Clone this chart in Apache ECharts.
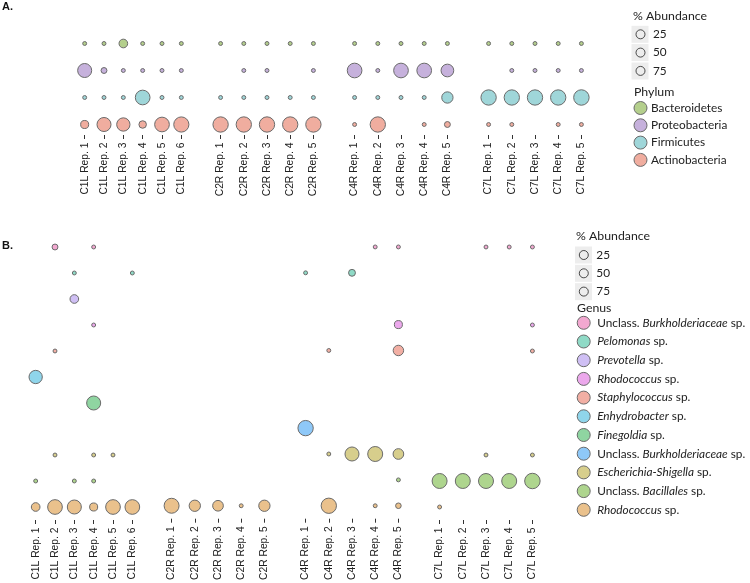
<!DOCTYPE html>
<html>
<head>
<meta charset="utf-8">
<script src="https://cdn.jsdelivr.net/npm/echarts@6/dist/echarts.min.js"></script>
<style>
  html, body { margin: 0; background: #fff; }
  #chart { width: 750px; height: 583px; }
</style>
</head>
<body>
<div id="chart"></div>
<script>
const _ = null; // not detected

const sites = ['C1L', 'C2R', 'C4R', 'C7L'];
const repCounts = [6, 5, 5, 5];
const sizeKeys = ['25', '50', '75'];

// panel A, % abundance per sample: C1L 1-6 | C2R 1-5 | C4R 1-5 | C7L 1-5
const phyla = ['Bacteroidetes', 'Proteobacteria', 'Firmicutes', 'Actinobacteria'];
const phylumColors = ['#b4cf8c', '#c6b1dc', '#9fd6d9', '#f0ad9f'];
const bacteroidetes  = [0.5, 0.5, 19, 0.5, 0.5, 0.5,  0.5, 0.5, 0.5, 0.5, 0.5,  0.5, 0.5, 0.5, 0.5, 0.5,  0.5, 0.5, 0.5, 0.5, 0.5];
const proteobacteria = [72, 5, 0.5, 0.5, 0.5, 0.5,    _, 0.5, 0.5, _, 0.5,        81, 0.5, 81, 81, 56,       _, 0.5, 0.5, 0.5, 0.5];
const firmicutes     = [0.5, 0.5, 0.5, 81, 0.5, 0.5,  0.5, 0.5, 0.5, 0.5, 0.5,  0.5, 0.5, 0.5, 0.5, 41,   90, 90, 90, 90, 92];
const actinobacteria = [15, 72, 63, 12, 81, 88,       90, 90, 90, 90, 90,       0.5, 90, _, 0.5, 5,        0.5, 0.5, _, 0.5, 0.5];

// panel B
const genera = ['Unclass. Burkholderiaceae', 'Pelomonas', 'Prevotella', 'Rhodococcus', 'Staphylococcus',
  'Enhydrobacter', 'Finegoldia', 'Unclass. Burkholderiaceae', 'Escherichia-Shigella', 'Unclass. Bacillales', 'Rhodococcus'];
const genusColors = ['#f2a8d0', '#8fdac6', '#cfbff4', '#eca8ec', '#f2afa4', '#8fd5eb',
  '#8fd5a1', '#8ec8f8', '#d7ce8c', '#aed58e', '#eac18c'];
const burkholderiaceaeA = [_, 5, _, 0.5, _, _,      _, _, _, _, _,        _, _, _, 0.5, 0.5,      _, _, 0.5, 0.5, 0.5];
const pelomonas         = [_, _, 0.5, _, _, 0.5,    _, _, _, _, _,        0.5, _, 9, _, _,        _, _, _, _, _];
const prevotella        = [_, _, 19, _, _, _,       _, _, _, _, _,        _, _, _, _, _,          _, _, _, _, _];
const rhodococcusA      = [_, _, _, 0.5, _, _,      _, _, _, _, _,        _, _, _, _, 15,         _, _, _, _, 0.5];
const staphylococcus    = [_, 0.5, _, _, _, _,      _, _, _, _, _,        _, 0.5, _, _, 33,       _, _, _, _, 0.5];
const enhydrobacter     = [63, _, _, _, _, _,       _, _, _, _, _,        _, _, _, _, _,          _, _, _, _, _];
const finegoldia        = [_, _, _, 72, _, _,       _, _, _, _, _,        _, _, _, _, _,          _, _, _, _, _];
const burkholderiaceaeB = [_, _, _, _, _, _,        _, _, _, _, _,        90, _, _, _, _,         _, _, _, _, _];
const escherichia       = [_, 0.5, _, 0.5, 0.5, _,  _, _, _, _, _,        _, 0.5, 72, 85, 35,     _, _, 0.5, _, 0.5];
const bacillales        = [0.5, _, 0.5, 0.5, _, _,  _, _, _, _, _,        _, _, _, _, 0.5,        85, 85, 85, 85, 92];
const rhodococcusB      = [19, 81, 72, 15, 81, 81,  85, 41, 35, 0.5, 41,  _, 90, _, 0.5, 4,       0.5, _, _, _, _];

const phylumValues = [bacteroidetes, proteobacteria, firmicutes, actinobacteria];
const genusValues = [burkholderiaceaeA, pelomonas, prevotella, rhodococcusA, staphylococcus,
  enhydrobacter, finegoldia, burkholderiaceaeB, escherichia, bacillales, rhodococcusB];

const FONT = '"Liberation Sans", Arial, sans-serif';
const LEG_FONT = 'Lato, "Noto Sans", sans-serif';

const samples = sites.map((s, i) => Array.from({ length: repCounts[i] }, (x, r) => `${s} Rep. ${r + 1}`));
const offsets = repCounts.map((c, i) => repCounts.slice(0, i).reduce((a, b) => a + b, 0));

const bubbleSize = d => 3 + 13 * Math.sqrt(d[2] / 100);

const grid = [], xAxis = [], yAxis = [], series = [];

const buildPanel = (rowKeys, values, colors, left0, top, height, axisOffset) => {
  sites.forEach((site, f) => {
    const gi = grid.length;
    grid.push({ left: left0 + f * 134, top, width: 116, height });
    xAxis.push({
      type: 'category', gridIndex: gi, data: samples[f], offset: axisOffset,
      axisLine: { show: false },
      axisTick: { show: true, alignWithLabel: true, length: 4, lineStyle: { color: '#333', width: 1 } },
      axisLabel: { rotate: 90, margin: 7.5, fontSize: 10.3, color: '#222', fontFamily: FONT },
      splitLine: { show: false },
    });
    yAxis.push({ type: 'category', gridIndex: gi, data: rowKeys, inverse: true, show: false });
    rowKeys.forEach((key, r) => {
      const data = samples[f]
        .map((lab, k) => [lab, key, values[r][offsets[f] + k]])
        .filter(d => d[2] !== null);
      series.push({
        type: 'scatter', name: key, xAxisIndex: gi, yAxisIndex: gi, data,
        symbolSize: bubbleSize,
        itemStyle: { color: colors[r], borderColor: '#6a6a6a', borderWidth: 1, opacity: 1 },
        emphasis: { disabled: true },
      });
    });
  });
};

const genusKeys = genera.map((g, i) => 'g' + i);
buildPanel(phyla, phylumValues, phylumColors, 75, 30, 108, -3);
buildPanel(genusKeys, genusValues, genusColors, 26, 234, 286, 0);

// empty series that only feed the size legend
sizeKeys.forEach(k => series.push({ type: 'scatter', name: k, xAxisIndex: 0, yAxisIndex: 0, data: [] }));

const genusLabel = name => {
  const g = genera[Number(name.slice(1))];
  if (g.startsWith('Unclass. ')) return 'Unclass. {i|' + g.slice(9) + '} sp.';
  return '{i|' + g + '} sp.';
};

const legText = { fontFamily: LEG_FONT, fontSize: 11.8, color: '#222', lineHeight: 13 };
const sizeLegend = (left, top) => ({
  data: sizeKeys, orient: 'vertical', left, top, icon: 'circle',
  itemWidth: 9, itemHeight: 9, itemGap: 5.3, selectedMode: false, padding: 0,
  itemStyle: { color: 'rgba(0,0,0,0)', borderColor: '#222', borderWidth: 1 },
  textStyle: { ...legText, padding: [0, 0, 0, 3] },
});

const keyBoxes = (x, centers) => centers.map(c => ({
  type: 'rect', z: -1, shape: { x, y: c - 8.5, width: 17, height: 17 }, style: { fill: '#ededed' },
}));

const chart = echarts.init(document.getElementById('chart'));
chart.setOption({
  animation: false,
  title: [
    { text: 'A.', left: 2, top: 1, padding: 0, textStyle: { fontFamily: FONT, fontSize: 11, fontWeight: 'bold', color: '#111' } },
    { text: 'B.', left: 2, top: 240, padding: 0, textStyle: { fontFamily: FONT, fontSize: 11, fontWeight: 'bold', color: '#111' } },
    { text: '% Abundance', left: 633, top: 10, padding: 0, textStyle: { fontFamily: LEG_FONT, fontSize: 12.3, fontWeight: 'normal', color: '#222' } },
    { text: 'Phylum', left: 634, top: 86, padding: 0, textStyle: { fontFamily: LEG_FONT, fontSize: 12.3, fontWeight: 'normal', color: '#222' } },
    { text: '% Abundance', left: 576, top: 230, padding: 0, textStyle: { fontFamily: LEG_FONT, fontSize: 12.3, fontWeight: 'normal', color: '#222' } },
    { text: 'Genus', left: 577, top: 302, padding: 0, textStyle: { fontFamily: LEG_FONT, fontSize: 12.3, fontWeight: 'normal', color: '#222' } },
  ],
  legend: [
    sizeLegend(635.5, 27.8),
    {
      data: phyla, orient: 'vertical', left: 633.5, top: 101, icon: 'circle',
      itemWidth: 13, itemHeight: 13, itemGap: 3.3, selectedMode: false, padding: 0,
      itemStyle: { borderColor: '#6a6a6a', borderWidth: 1 },
      textStyle: { ...legText, padding: [0, 0, 0, -1] },
    },
    sizeLegend(578.8, 248.5),
    {
      data: genusKeys, orient: 'vertical', left: 576.7, top: 315.8, icon: 'circle',
      itemWidth: 13, itemHeight: 13, itemGap: 4.7, selectedMode: false, padding: 0,
      itemStyle: { borderColor: '#6a6a6a', borderWidth: 1 },
      formatter: genusLabel,
      textStyle: { ...legText, padding: [0, 0, 0, 2], rich: { i: { ...legText, fontStyle: 'italic' } } },
    },
  ],
  graphic: [...keyBoxes(631.5, [34.3, 52.6, 71]), ...keyBoxes(575, [255, 273.3, 291.7])],
  grid, xAxis, yAxis, series,
});
</script>
</body>
</html>
